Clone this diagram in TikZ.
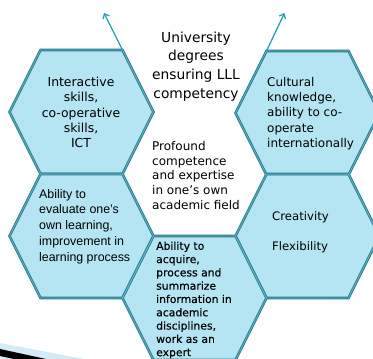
\documentclass[tikz,border=0pt]{standalone}
\usepackage{fontspec}
\setmainfont{DejaVu Sans}
\newfontfamily\arialf{Liberation Sans}
\newfontfamily\semibf[FakeBold=0.3]{DejaVu Sans}
\usetikzlibrary{arrows.meta}
\definecolor{hexfill}{HTML}{B5E4F2}
\definecolor{hexedge}{HTML}{2C7C8E}
\definecolor{hexinner}{HTML}{5FAEC2}
\definecolor{arrowc}{HTML}{2E9CB6}
\definecolor{wedgec}{HTML}{D4EAF4}
\newcommand\hexpath[2]{(#1-72,#2) -- (#1-41,#2-62) -- (#1+41,#2-62) -- (#1+72,#2) -- (#1+41,#2+62) -- (#1-41,#2+62) -- cycle}
\begin{document}
\begin{tikzpicture}[x=1pt,y=-1pt,
  hexbox/.style={fill=hexfill,draw=hexedge,line width=2.6pt,line join=miter},
  hexline/.style={draw=hexinner,line width=0.7pt,line join=miter},
  lbl/.style={inner sep=0pt,text=black},
  growarrow/.style={draw=arrowc,line width=1.3pt,-{Straight Barb[length=4pt,width=7pt]}}]
\useasboundingbox (0,0) rectangle (373,359);
% decoration bottom left
\fill[wedgec] (0,343) -- (84,359) -- (0,359) -- cycle;
\fill[black] (0,349) -- (46,359) -- (14,359) -- (0,356) -- cycle;
% hexagons
\foreach \cx/\cy in {81.5/112, 81.5/236, 307.5/113, 307.5/236, 194.5/298}{
  \path[hexbox] \hexpath{\cx}{\cy};
}
\foreach \cx/\cy in {81.5/112, 81.5/236, 307.5/113, 307.5/236, 194.5/298}{
  \path[hexline] \hexpath{\cx}{\cy};
}
% arrows
\coordinate (tlv) at (122.5,50);
\coordinate (tltip) at (104,13);
\coordinate (trv) at (266.5,51);
\coordinate (trtip) at (284.5,13);
\draw[growarrow] (tlv) -- (tltip);
\draw[growarrow] (trv) -- (trtip);
% texts
\node[lbl,align=center,font=\fontsize{13.8}{18.8}\selectfont] (top) at (196,66.5)
  {University\\degrees\\ensuring LLL\\competency};
\node[lbl,align=center,font=\fontsize{12.4}{15.3}\selectfont] (tl) at (81,112.5)
  {Interactive\\skills,\\co-operative\\skills,\\ICT};
\node[lbl,align=left,anchor=west,font=\fontsize{12}{15.2}\selectfont] (tr) at (267,113.5)
  {Cultural\\knowledge,\\ability to co-\\operate\\internationally};
\node[lbl,align=left,anchor=west,font=\fontsize{12}{14.8}\selectfont] (ctr) at (152,175.5)
  {Profound\\competence\\and expertise\\in one’s own\\academic field};
\node[lbl,align=left,anchor=west,font=\arialf\fontsize{12.4}{15.8}\selectfont] (ml) at (39,226.5)
  {Ability to\\evaluate one’s\\own learning,\\improvement in\\learning process};
\node[lbl,align=left,anchor=west,font=\fontsize{11.7}{30}\selectfont] (mr) at (272,232)
  {Creativity\\Flexibility};
\node[lbl,align=left,anchor=west,font=\semibf\fontsize{10.8}{13.3}\selectfont] (bm) at (156,300)
  {Ability to\\acquire,\\process and\\summarize\\information in\\academic\\disciplines,\\work as an\\expert};
\end{tikzpicture}
\end{document}
